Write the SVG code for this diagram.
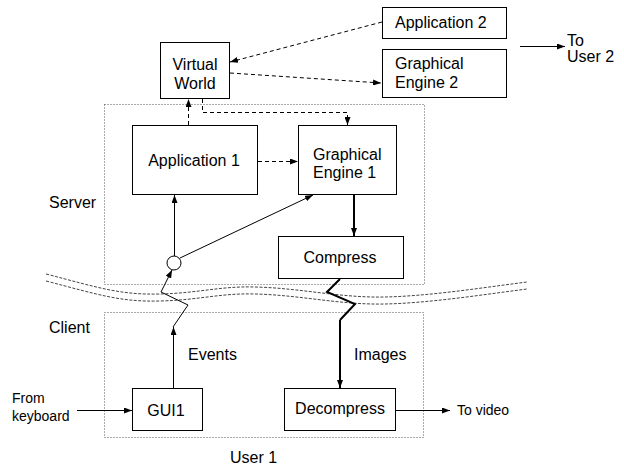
<svg xmlns="http://www.w3.org/2000/svg" width="624" height="467" viewBox="0 0 624 467">
  <style>
    text { font-family: "Liberation Sans", Arial, sans-serif; font-size: 16px; fill: #000; }
    text.small { font-size: 14px; }
    .box { fill: #fff; stroke: #000; stroke-width: 1; }
    .zone { fill: none; stroke: #555; stroke-width: 1; stroke-dasharray: 1,2; }
    .wave { fill: none; stroke: #444; stroke-width: 1; stroke-dasharray: 3,1.5; }
    .line { fill: none; stroke: #000; stroke-width: 1; }
    .thick { fill: none; stroke: #000; stroke-width: 2; }
    .dash { fill: none; stroke: #000; stroke-width: 1; stroke-dasharray: 4,3; }
  </style>
  <defs>
    <marker id="arrow" viewBox="0 0 8 6" refX="8" refY="3" markerWidth="8" markerHeight="6" markerUnits="userSpaceOnUse" orient="auto">
      <path d="M0,0 L8,3 L0,6 Z" fill="#000"/>
    </marker>
  </defs>

  <rect width="624" height="467" fill="#fff"/>

  <!-- zone outlines -->
  <g id="server-zone">
    <rect class="zone" x="104.5" y="104.5" width="320" height="180"/>
    <text x="49" y="208">Server</text>
  </g>
  <g id="client-zone">
    <rect class="zone" x="104.5" y="312.5" width="319" height="125"/>
    <text x="49" y="333">Client</text>
    <text x="230" y="463">User 1</text>
  </g>

  <!-- network boundary -->
  <g id="network">
    <path class="wave" d="M46,274 C100,288 120,295 160,294 C200,293 220,286 255,287 C300,288 340,298 385,297 C430,296 480,288 527,282"/>
    <path class="wave" d="M46,281 C100,295 120,302 160,301 C200,300 220,293 255,294 C300,295 340,305 385,304 C430,303 480,295 527,289"/>
  </g>

  <!-- nodes -->
  <g id="virtual-world">
    <rect class="box" x="160.5" y="42.5" width="69" height="56"/>
    <text x="195" y="70" text-anchor="middle">Virtual</text>
    <text x="195" y="89" text-anchor="middle">World</text>
  </g>
  <g id="application-2">
    <rect class="box" x="382.5" y="7.5" width="124" height="31"/>
    <text x="395" y="28">Application 2</text>
  </g>
  <g id="graphical-engine-2">
    <rect class="box" x="382.5" y="49.5" width="124" height="48"/>
    <text x="395" y="69">Graphical</text>
    <text x="395" y="88">Engine 2</text>
  </g>
  <g id="application-1">
    <rect class="box" x="132.5" y="125.5" width="125" height="69"/>
    <text x="194" y="166" text-anchor="middle">Application 1</text>
  </g>
  <g id="graphical-engine-1">
    <rect class="box" x="298.5" y="125.5" width="98" height="69"/>
    <text x="313" y="160">Graphical</text>
    <text x="313" y="178">Engine 1</text>
  </g>
  <g id="compress">
    <rect class="box" x="278.5" y="236.5" width="125" height="42"/>
    <text x="340" y="263" text-anchor="middle">Compress</text>
  </g>
  <g id="junction">
    <circle cx="174" cy="263" r="7" fill="#fff" stroke="#000" stroke-width="1"/>
  </g>
  <g id="gui1">
    <rect class="box" x="132.5" y="388.5" width="70" height="42"/>
    <text x="166" y="416" text-anchor="middle">GUI1</text>
  </g>
  <g id="decompress">
    <rect class="box" x="284.5" y="388.5" width="111" height="42"/>
    <text x="340" y="414" text-anchor="middle">Decompress</text>
  </g>

  <!-- free labels -->
  <g id="labels">
    <text x="188" y="360">Events</text>
    <text x="354" y="360">Images</text>
    <text class="small" x="12" y="403">From</text>
    <text class="small" x="12" y="421">keyboard</text>
    <text class="small" x="457" y="415">To video</text>
    <text x="567" y="46">To</text>
    <text x="567" y="62">User 2</text>
  </g>

  <!-- connectors -->
  <g id="connectors">
    <path class="dash" d="M382,22 L230,62" marker-end="url(#arrow)"/>
    <path class="dash" d="M230,73 L381,83" marker-end="url(#arrow)"/>
    <path class="dash" d="M188.5,125 L188.5,99" marker-end="url(#arrow)"/>
    <path class="dash" d="M202.5,99 L202.5,112.5 L347.5,112.5 L347.5,125" marker-end="url(#arrow)"/>
    <path class="dash" d="M258,161.5 L298,161.5" marker-end="url(#arrow)"/>
    <path class="thick" d="M354,195 L354,236" marker-end="url(#arrow)"/>
    <path class="line" d="M174.5,256 L174.5,195" marker-end="url(#arrow)"/>
    <path class="line" d="M180,258 L313,195" marker-end="url(#arrow)"/>
    <path class="line" d="M173.5,388 L173.5,327" marker-end="url(#arrow)"/>
    <path class="line" d="M173,327 L188,305 L161,292 L172,270" marker-end="url(#arrow)"/>
    <path class="thick" d="M340,279 L327,292 L355,304 L340,320"/>
    <path class="thick" d="M340,320 L340,388" marker-end="url(#arrow)"/>
    <path class="line" d="M77,410.5 L132,410.5" marker-end="url(#arrow)"/>
    <path class="line" d="M396,410.5 L450,410.5" marker-end="url(#arrow)"/>
    <path class="line" d="M520,46.5 L565,46.5" marker-end="url(#arrow)"/>
  </g>
</svg>
